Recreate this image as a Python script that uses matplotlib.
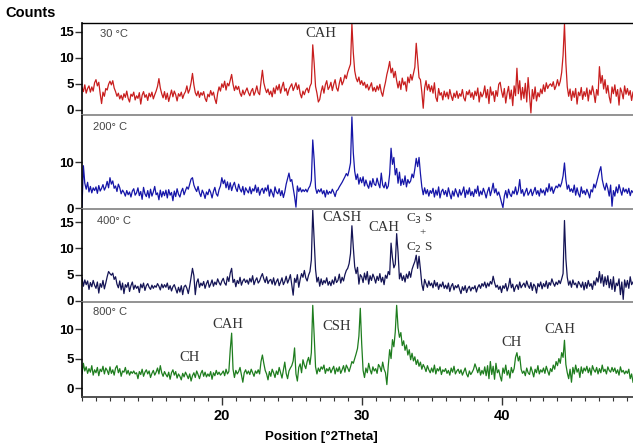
import numpy as np
import matplotlib
matplotlib.use("Agg")
import matplotlib.pyplot as plt
from matplotlib.ticker import MultipleLocator

# ---- data: 2theta grid starts at 10.0 with 0.1 step ----
two_theta_start = 10.0
two_theta_step = 0.1

counts_30C = [
 4.3,3.5,4.8,3.2,4.1,4.6,3.4,4.4,3.6,5.2,
 5.8,4.6,5.3,3.1,1.2,3.4,2.6,4.1,3.8,4.9,
 5.5,4.8,5.6,4.2,3.5,2.6,3.2,2.1,2.8,1.9,
 3.1,2.4,3.6,2.2,1.5,3.0,2.6,3.4,1.9,2.7,
 2.2,3.3,1.1,2.8,3.5,2.4,2.9,1.8,3.2,2.5,
 3.4,2.1,2.9,3.6,4.5,6.0,4.2,3.1,2.3,3.5,
 2.0,3.2,1.6,2.7,3.8,2.5,3.6,2.9,1.7,3.1,
 2.6,3.4,2.2,3.0,3.5,4.6,3.2,3.9,5.2,7.0,
 4.8,3.3,2.7,3.6,2.4,3.3,2.8,3.5,2.2,1.6,
 3.0,2.5,3.7,2.8,3.4,2.1,1.2,3.2,4.4,3.6,
 5.0,4.3,5.5,3.8,5.1,4.6,5.7,6.8,4.9,3.7,
 4.6,3.9,4.5,3.2,2.6,3.8,2.9,3.6,4.2,3.3,
 2.7,3.6,4.1,2.8,3.5,4.6,3.3,2.9,5.4,7.6,
 5.2,4.1,3.3,4.0,2.9,3.6,2.5,4.2,3.1,4.6,
 3.8,4.9,3.2,4.4,5.3,3.6,4.1,2.8,3.9,4.5,
 5.0,3.7,4.4,5.2,3.9,4.8,3.1,2.3,3.6,2.9,
 3.8,4.2,3.3,4.5,5.1,12.5,9.0,4.5,3.2,1.5,
 2.0,3.5,4.6,3.2,4.8,5.6,3.9,4.4,5.3,3.7,
 4.9,5.8,4.2,3.6,5.1,6.2,4.8,5.5,6.7,6.0,
 7.2,8.0,8.8,16.5,11.0,7.5,6.1,5.4,6.3,4.9,
 5.6,4.7,5.3,4.2,4.9,3.8,4.5,5.2,3.6,4.3,
 3.5,4.6,3.8,4.9,3.4,2.6,4.1,5.3,6.8,7.9,
 9.3,7.1,8.0,6.2,7.4,5.6,4.2,5.5,3.9,6.1,
 4.8,5.4,3.6,6.3,5.2,6.8,5.7,7.0,8.2,12.8,
 9.5,6.2,5.8,3.4,0.3,4.2,5.6,3.8,4.9,3.5,
 4.6,3.2,5.2,2.4,1.6,4.1,2.8,3.3,1.9,3.6,
 2.5,3.4,2.1,3.9,2.7,1.8,3.2,2.4,3.6,2.2,
 3.1,2.6,3.9,2.3,1.7,3.5,2.9,3.8,2.4,3.3,
 2.0,3.6,2.7,4.2,1.5,3.4,2.5,3.1,4.6,2.3,
 3.9,1.2,4.4,2.8,3.5,1.6,3.7,2.6,4.9,5.3,
 3.6,2.4,4.1,1.3,3.2,4.5,2.1,3.8,0.8,4.6,
 2.7,8.0,3.1,5.6,1.9,4.3,2.2,5.1,1.5,6.2,
 2.8,-0.6,3.9,2.1,4.4,1.7,3.3,2.5,4.0,3.1,
 4.8,3.5,5.2,4.1,4.7,5.0,4.5,5.4,3.9,4.6,
 5.8,4.6,5.5,7.2,10.5,16.5,9.0,4.4,2.6,4.0,
 1.8,3.6,2.4,4.1,1.1,3.4,2.7,4.3,2.0,3.5,
 2.6,4.2,1.7,3.8,2.9,4.6,3.2,1.4,3.9,2.8,
 8.3,5.1,6.6,4.0,5.8,3.2,4.7,2.5,1.3,4.4,
 3.1,4.8,2.6,3.9,0.9,4.2,3.4,2.1,4.6,3.0,
 4.1,2.8,3.7,1.8,3.4,
]

counts_200C = [
 0.3,9.2,5.4,4.1,5.6,3.5,4.7,3.3,4.4,3.8,
 4.6,3.2,4.9,3.7,4.3,5.1,3.9,4.6,5.8,4.4,
 6.6,5.2,5.9,4.3,4.8,3.6,5.2,4.4,3.1,3.9,
 3.4,2.6,3.8,2.9,3.5,2.4,3.7,4.2,2.8,3.3,
 4.4,2.7,3.6,1.9,4.5,3.1,2.5,3.8,2.2,4.1,
 2.6,3.5,4.7,2.9,3.3,1.8,3.9,2.4,3.6,2.7,
 3.9,2.2,4.0,2.8,3.4,1.6,3.7,2.5,4.2,3.0,
 2.4,3.6,4.3,2.9,3.8,4.6,4.1,5.2,6.3,6.6,
 5.0,4.2,3.6,4.7,3.3,2.5,3.9,3.2,2.1,3.5,
 2.9,4.1,3.4,2.2,3.6,4.5,3.1,2.6,4.0,4.8,
 6.6,5.3,6.1,4.4,5.7,4.0,5.5,3.8,4.9,5.6,
 4.3,3.6,5.2,4.1,3.5,4.7,2.9,4.4,3.8,3.3,
 4.6,3.1,4.2,3.7,5.0,3.4,4.5,2.8,3.9,4.3,
 3.2,4.4,3.7,5.0,2.6,4.1,3.3,2.4,4.6,3.5,
 3.1,4.2,2.7,3.8,2.3,3.5,5.2,6.4,7.6,5.8,
 6.2,4.3,2.5,0.2,4.8,3.6,4.4,3.5,4.0,3.6,
 4.1,3.5,4.3,4.8,6.0,14.8,10.5,4.4,3.2,4.0,
 3.5,4.2,3.1,3.8,2.4,3.9,3.0,3.6,3.2,4.1,
 3.4,2.5,3.7,4.0,4.6,5.1,5.6,6.2,6.8,7.5,
 7.0,8.2,9.8,19.8,12.0,8.0,6.2,7.4,5.2,6.6,
 5.5,6.8,4.8,6.1,5.0,4.3,5.9,4.6,6.4,5.2,
 4.9,6.5,5.3,4.4,7.6,5.0,4.4,5.6,4.2,4.8,
 7.4,13.0,9.5,11.0,7.2,8.6,5.4,7.8,4.9,6.3,
 5.1,7.0,4.6,6.2,5.4,5.9,7.4,6.6,8.5,10.8,
 9.0,11.0,7.5,4.6,2.9,4.4,3.1,4.0,2.6,3.8,
 3.2,4.3,2.4,3.9,2.8,4.6,2.2,3.6,4.1,2.9,
 3.8,2.5,4.4,3.1,2.0,3.7,2.6,4.2,3.3,2.4,
 4.0,2.8,3.5,4.6,2.3,3.9,3.0,4.4,2.7,3.6,
 2.5,4.1,3.2,4.8,2.6,3.7,2.9,4.3,3.4,2.2,
 3.6,4.5,2.7,3.9,5.4,3.3,4.2,2.8,3.5,2.4,
 1.2,0.1,2.6,3.8,2.2,4.1,3.0,2.5,3.7,3.1,
 4.6,2.9,3.8,6.2,3.2,4.0,2.6,3.5,4.3,2.8,
 3.4,4.1,2.7,3.6,4.5,3.0,3.8,2.6,4.2,3.3,
 3.9,2.8,4.4,3.5,5.3,3.7,4.6,3.2,4.1,4.8,
 4.4,5.2,4.6,5.5,7.0,9.8,6.2,4.1,5.0,3.6,
 4.2,3.4,5.0,2.8,4.4,3.1,2.4,4.6,3.2,3.8,
 2.9,4.1,3.3,2.2,4.0,3.5,5.2,4.4,5.6,6.8,
 8.0,9.0,6.2,4.8,3.9,5.4,4.2,2.6,5.0,0.4,
 3.8,2.6,4.6,3.3,5.1,3.9,2.8,4.4,3.5,4.1,
 3.2,4.3,2.7,3.8,3.4,
]

counts_400C = [
 4.4,2.8,4.0,3.1,3.8,2.2,3.5,2.7,3.9,3.0,
 2.4,3.6,1.5,3.3,2.6,3.9,2.3,3.4,4.6,5.6,
 5.2,4.9,5.3,4.1,4.6,3.2,2.5,3.8,2.1,3.4,
 1.4,3.1,2.6,3.5,1.8,2.9,3.6,2.2,3.0,2.4,
 2.8,1.6,3.2,2.5,3.4,2.0,2.9,3.3,2.6,2.2,
 3.0,2.4,2.9,2.6,3.3,2.8,2.1,3.2,2.5,3.1,
 2.6,3.4,2.2,2.9,1.9,2.7,3.1,2.3,1.5,2.6,
 1.7,2.9,1.2,2.7,3.0,2.4,1.4,2.8,4.5,6.2,
 4.8,1.2,3.5,4.2,2.6,3.4,2.9,3.7,2.4,3.3,
 3.9,2.6,3.2,4.0,2.8,3.6,3.1,4.2,3.5,3.0,
 3.8,4.3,3.4,3.0,4.6,3.7,5.3,6.2,3.5,4.1,
 2.7,3.9,3.3,4.5,3.0,3.8,4.2,3.5,4.0,3.2,
 4.3,3.6,4.8,3.1,3.9,4.4,3.4,3.8,4.6,5.2,
 4.2,3.5,4.6,3.3,3.9,4.1,3.2,4.4,3.0,3.7,
 4.2,2.9,3.6,4.4,3.1,3.7,4.7,3.4,4.1,5.0,
 3.0,1.1,4.3,3.5,5.0,2.6,4.1,5.2,4.5,5.8,
 4.4,3.8,4.9,5.6,7.8,17.3,11.5,6.0,3.6,4.5,
 2.8,4.2,3.1,3.9,3.4,4.4,3.0,3.7,2.9,4.0,
 3.2,4.6,3.5,3.9,5.1,3.4,4.5,3.8,5.0,5.8,
 6.2,7.1,9.0,14.3,10.2,6.5,5.2,6.4,3.2,5.0,
 4.6,3.5,5.3,4.0,5.6,3.2,4.8,3.9,5.1,4.4,
 3.4,4.7,3.9,5.2,3.6,4.5,3.1,4.9,4.3,5.6,
 5.0,11.0,8.2,6.3,7.0,12.8,9.2,4.2,5.3,3.9,
 4.8,3.6,5.1,4.3,5.6,4.5,6.0,6.8,7.5,8.7,
 6.2,8.5,6.0,3.2,2.0,4.1,3.3,2.6,3.8,2.9,
 3.4,2.5,3.9,2.8,3.5,2.2,3.2,2.7,3.6,2.4,
 3.0,2.3,3.4,1.8,2.8,3.3,2.1,2.9,2.5,3.1,
 2.2,1.4,2.7,2.0,2.9,1.6,2.4,2.8,1.9,2.6,
 2.3,2.9,1.7,2.6,3.1,2.4,3.3,2.8,3.6,2.5,
 3.4,2.8,3.7,3.2,4.7,3.5,2.6,3.0,2.2,2.8,
 1.6,2.9,2.4,3.3,1.9,2.8,4.3,2.5,3.2,1.8,
 2.7,3.1,2.2,3.6,2.5,3.0,3.4,2.6,3.8,2.9,
 2.4,3.5,2.0,3.2,2.8,1.5,3.3,2.7,3.6,2.3,
 3.3,2.7,3.8,2.4,3.5,3.0,4.2,3.4,2.8,3.6,
 3.1,3.9,3.3,4.2,5.2,15.3,8.0,4.5,3.0,3.8,
 2.6,4.0,3.1,3.4,2.5,3.7,3.2,2.6,3.6,2.1,
 3.5,2.4,3.9,2.8,3.3,2.2,3.8,3.0,4.4,3.6,
 5.6,3.4,5.0,2.8,4.6,3.1,4.8,2.5,4.1,2.2,
 4.6,1.8,3.4,2.9,4.2,1.2,3.6,0.3,4.0,2.6,
 3.9,2.4,4.6,3.1,3.6,
]

counts_800C = [
 2.4,4.2,2.9,3.6,2.5,3.3,2.7,3.8,2.2,3.1,
 2.6,3.5,2.1,3.2,2.8,3.7,2.4,3.4,3.0,2.3,
 3.6,2.5,3.1,2.2,3.4,3.8,2.6,3.3,2.0,2.9,
 2.7,3.5,2.4,3.0,2.2,2.8,2.5,2.9,2.4,2.6,
 1.6,2.8,2.3,3.2,2.0,2.7,3.1,2.4,2.9,1.8,
 2.5,3.0,2.2,2.7,3.4,2.4,3.8,2.6,2.0,2.8,
 2.3,1.9,2.7,1.5,2.6,3.1,2.2,2.8,1.7,2.4,
 2.0,1.4,2.5,1.9,2.7,2.2,1.6,2.4,1.2,2.1,
 2.6,1.8,2.9,2.3,1.6,2.5,3.0,2.0,2.7,1.9,
 2.4,2.0,2.8,1.5,2.6,2.1,3.0,2.3,2.7,2.2,
 2.5,2.9,2.1,3.2,2.4,2.8,6.5,9.3,3.2,1.8,
 3.0,2.4,2.8,3.5,2.2,1.0,2.6,3.1,2.4,2.9,
 2.3,3.2,2.6,2.0,2.9,2.5,3.1,2.4,4.5,5.6,
 4.2,3.0,2.4,1.4,2.8,2.0,3.2,2.6,1.8,2.9,
 2.3,3.5,2.6,1.7,3.0,4.4,2.5,1.6,2.9,3.4,
 3.8,4.6,6.8,2.4,1.2,3.5,4.1,2.6,4.8,3.9,
 3.3,4.5,5.2,4.0,6.0,14.0,9.0,3.6,2.4,3.4,
 2.8,3.6,3.2,3.9,2.5,3.3,2.9,3.5,2.6,3.2,
 3.7,2.4,3.4,2.8,3.6,2.5,3.1,3.8,2.7,3.9,
 3.4,2.8,3.6,4.5,4.2,5.0,5.8,6.7,8.8,13.5,
 7.5,3.0,1.8,3.4,2.6,4.2,3.1,2.4,3.6,2.9,
 3.3,2.5,4.0,3.6,2.8,4.4,3.2,2.6,0.6,3.8,
 6.5,5.0,8.2,7.0,9.5,14.0,10.2,8.6,9.4,7.2,
 8.0,6.4,7.3,5.6,6.5,4.8,5.9,4.6,5.3,4.0,
 4.8,3.7,4.4,3.2,4.0,3.5,2.8,3.8,3.1,2.6,
 3.4,2.7,3.9,2.4,3.3,2.9,3.6,2.3,3.1,2.8,
 3.3,2.5,3.0,2.2,3.4,2.7,3.7,2.4,2.9,3.2,
 2.5,3.1,2.2,2.8,3.4,2.4,1.9,2.9,2.3,2.7,
 3.2,4.1,3.4,2.6,3.5,2.2,3.0,2.4,3.6,2.1,
 3.8,1.6,4.5,2.3,3.7,1.5,4.2,2.6,3.1,2.0,
 1.2,3.4,2.5,3.9,2.2,3.0,1.7,3.5,2.6,3.3,
 5.2,6.0,4.6,5.4,3.2,2.5,2.9,2.1,3.4,2.6,
 2.3,3.6,2.8,1.9,3.2,2.6,3.8,2.4,3.1,2.7,
 3.4,2.5,3.7,2.9,2.2,3.3,2.8,3.9,3.2,4.5,
 3.8,5.0,4.2,6.0,5.2,8.1,4.0,2.6,1.6,3.2,
 1.0,3.5,2.4,3.9,2.7,3.3,1.8,3.6,2.5,3.4,
 2.9,3.7,2.6,3.4,2.2,3.8,3.1,2.7,3.5,2.4,
 3.3,2.6,3.9,2.8,3.2,2.4,3.6,3.0,2.7,3.5,
 2.8,3.4,2.5,3.1,2.2,3.6,2.7,3.0,2.4,2.9,
 2.5,3.2,1.6,2.4,1.0,
]

panel_labels = ["30 \u00b0C", "200\u00b0 C", "400\u00b0 C", "800\u00b0 C"]
panel_colors = ["#c81e1e", "#1515a8", "#141455", "#1e7d1e"]
x_major_ticks = [20, 30, 40]

# ---- figure ----
W, H = 633, 445
fig = plt.figure(figsize=(W / 100, H / 100), dpi=100)

def frac(l, t, r, b):
    return [l / W, 1 - b / H, (r - l) / W, (b - t) / H]

boxes = [(82, 23, 633, 115), (82, 116, 633, 209), (82, 210, 633, 302), (82, 303, 633, 397)]
ylims = [(-1.0, 16.7), (-0.2, 20.0), (-0.2, 17.3), (-1.5, 14.4)]
yticks = [[0, 5, 10, 15], [0, 10], [0, 5, 10, 15], [0, 5, 10]]
series = [counts_30C, counts_200C, counts_400C, counts_800C]

tick_font = dict(family="Liberation Sans", weight="bold", size=9.5)
axes = []
for i in range(4):
    ax = fig.add_axes(frac(*boxes[i]))
    y = np.array(series[i])
    x = two_theta_start + two_theta_step * np.arange(len(y))
    ax.plot(x, y, color=panel_colors[i], lw=0.9)
    ax.set_xlim(10.0, 49.4)
    ax.set_ylim(*ylims[i])
    ax.set_yticks(yticks[i])
    ax.set_yticklabels([str(v) for v in yticks[i]], fontdict=tick_font)
    ax.tick_params(axis="y", direction="out", length=5, width=1, pad=1, color="#333333")
    ax.spines["right"].set_visible(False)
    ax.spines["left"].set_color("black")
    ax.spines["left"].set_linewidth(1.2)
    ax.spines["top"].set_visible(i == 0)
    ax.spines["top"].set_linewidth(1.0)
    ax.spines["bottom"].set_color("#8a8a8a" if i < 3 else "#444444")
    ax.spines["bottom"].set_linewidth(1.3)
    if i < 3:
        ax.set_xticks([])
    else:
        ax.set_xticks(x_major_ticks)
        ax.set_xticklabels([str(v) for v in x_major_ticks],
                           fontdict=dict(family="Liberation Sans", weight="bold", size=10.5))
        ax.xaxis.set_minor_locator(MultipleLocator(1))
        ax.tick_params(axis="x", which="major", direction="out", length=6, width=1, pad=3, color="#333333")
        ax.tick_params(axis="x", which="minor", direction="out", length=3, width=0.8, color="#333333")
    axes.append(ax)

label_font = dict(family="Liberation Sans", size=8, color="#444444")
axes[0].text(11.3, 14.6, panel_labels[0], va="center", ha="left", **label_font)
axes[1].text(10.8, 17.6, panel_labels[1], va="center", ha="left", **label_font)
axes[2].text(11.1, 15.3, panel_labels[2], va="center", ha="left", **label_font)
axes[3].text(10.8, 12.9, panel_labels[3], va="center", ha="left", **label_font)

ann = dict(family="Liberation Serif", size=10.5, color="#333333", ha="center", va="center")
axes[0].text(27.1, 14.6, "CAH", **ann)
axes[2].text(28.6, 15.8, "CASH", **ann)
axes[2].text(31.6, 14.0, "CAH", **ann)
small = dict(ann, size=9.5)
axes[2].text(34.15, 15.6, "C$_3$ S", **small)
axes[2].text(34.35, 12.9, "+", **dict(ann, size=8))
axes[2].text(34.15, 10.0, "C$_2$ S", **small)
axes[3].text(20.4, 10.8, "CAH", **ann)
axes[3].text(17.7, 5.1, "CH", **ann)
axes[3].text(28.2, 10.5, "CSH", **ann)
axes[3].text(40.7, 7.8, "CH", **ann)
axes[3].text(44.2, 10.0, "CAH", **ann)

fig.text(5 / W, 1 - 13 / H, "Counts", family="Liberation Sans", weight="bold", size=10.5,
         ha="left", va="center")
fig.text(321 / W, 1 - 437 / H, "Position [\u00b02Theta]", family="Liberation Sans",
         weight="bold", size=9.5, ha="center", va="center")

fig.savefig("out.png", dpi=100)
